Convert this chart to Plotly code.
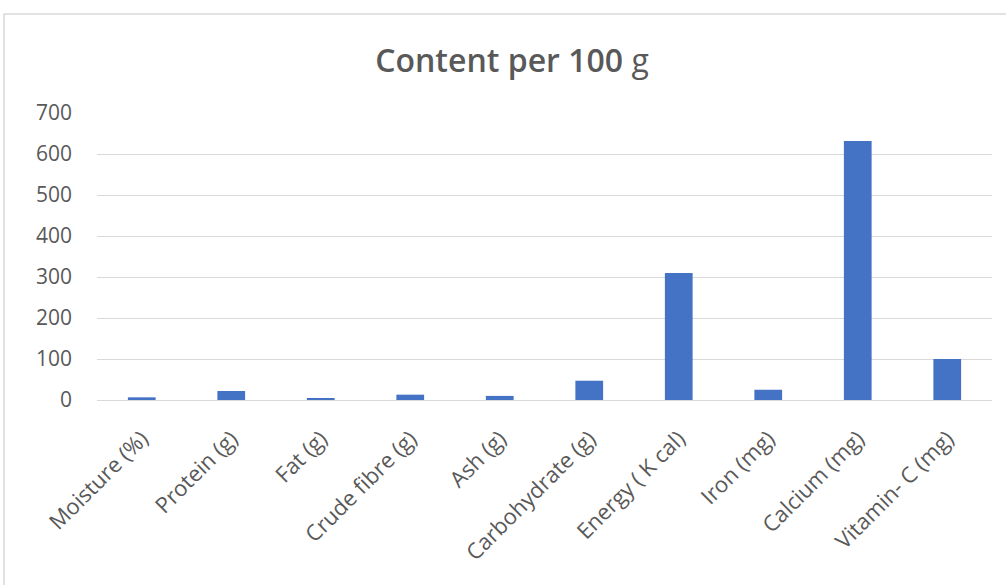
import plotly.graph_objects as go

categories = ["Moisture (%)", "Protein (g)", "Fat (g)", "Crude fibre (g)", "Ash (g)",
              "Carbohydrate (g)", "Energy ( K cal)", "Iron (mg)", "Calcium (mg)", "Vitamin- C (mg)"]
values = [6.5, 22, 3, 13, 10, 47, 310, 25, 632, 100]
y_ticks = [0, 100, 200, 300, 400, 500, 600, 700]

W, H = 1006, 585
L, R, T, B = 97, 14, 113, 185
pw, ph = W - L - R, H - T - B

def px_x(x):
    return (x - L) / pw

def px_y(y):
    return (H - B - y) / ph

fig = go.Figure(go.Bar(
    x=categories, y=values,
    marker=dict(color="#4472C4", line=dict(width=0)),
))

fig.update_layout(
    width=W, height=H,
    margin=dict(l=L, r=R, t=T, b=B),
    paper_bgcolor="white", plot_bgcolor="white",
    bargap=0.69,
    showlegend=False,
    font=dict(family="Open Sans", color="#595959", size=18),
    title=dict(text="<span style='font-weight:600'>Content per 100</span> g",
               x=512 / W, xanchor="center",
               y=1 - 61 / H, yanchor="middle",
               font=dict(family="Open Sans", size=32, color="#595959")),
    xaxis=dict(tickangle=-45, showgrid=False, showline=True, linecolor="#D9D9D9",
               linewidth=1, ticks="", ticklabelstandoff=16,
               tickfont=dict(size=22, color="#595959")),
    yaxis=dict(range=[0, 700], tickvals=y_ticks, showgrid=True, gridcolor="#D9D9D9",
               gridwidth=1, zeroline=False, showline=False, ticks="",
               ticklabelstandoff=24, tickfont=dict(size=21, color="#595959")),
    shapes=[dict(type="rect", xref="paper", yref="paper",
                 x0=px_x(4), x1=px_x(1012), y0=px_y(14), y1=px_y(595),
                 line=dict(color="#D9D9D9", width=1.5), fillcolor="rgba(0,0,0,0)",
                 layer="below")],
)

fig.write_html("out.html")
